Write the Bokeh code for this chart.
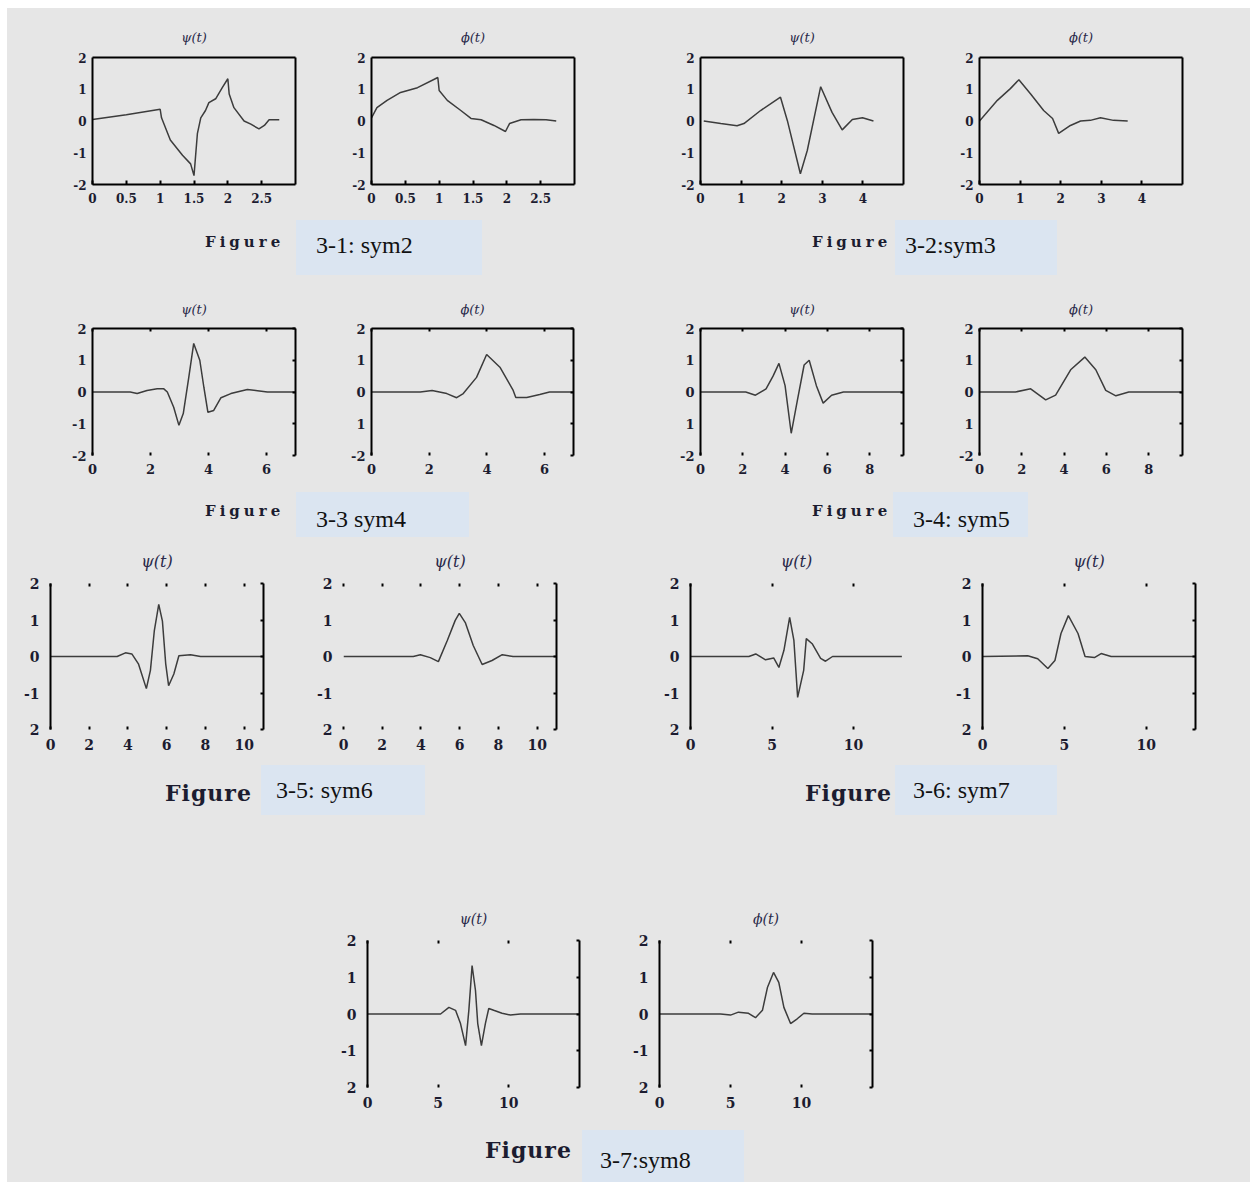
from bokeh.plotting import figure
from bokeh.models import Range1d, LinearAxis, FixedTicker, Spacer, Div
from bokeh.layouts import row, column
from bokeh.embed import file_html
from bokeh.resources import INLINE

BG = "#e6e6e6"
BOX = "#dbe5f1"
INK = "#1c1c30"
CURVE = "#3c3c3c"

# ---------------- data ----------------
t_psi_sym2 = [0, 0.5, 1.0, 1.02, 1.15, 1.33, 1.45, 1.5, 1.55, 1.6, 1.67, 1.72, 1.82, 1.92, 2.0, 2.02, 2.09, 2.24, 2.34, 2.46, 2.54, 2.61, 2.76]
v_psi_sym2 = [0.05, 0.2, 0.37, 0.1, -0.6, -1.08, -1.35, -1.72, -0.4, 0.1, 0.33, 0.58, 0.7, 1.06, 1.33, 0.85, 0.42, 0.0, -0.1, -0.25, -0.14, 0.04, 0.04]
t_phi_sym2 = [0.0, 0.08, 0.23, 0.43, 0.68, 0.98, 1.0, 1.12, 1.32, 1.47, 1.62, 1.81, 1.98, 2.04, 2.21, 2.4, 2.58, 2.73]
v_phi_sym2 = [0.1, 0.42, 0.65, 0.9, 1.05, 1.37, 0.96, 0.65, 0.33, 0.08, 0.04, -0.14, -0.33, -0.08, 0.04, 0.05, 0.04, 0.0]

t_psi_sym3 = [0.08, 0.5, 0.9, 1.07, 1.48, 1.97, 2.14, 2.46, 2.63, 2.96, 3.24, 3.49, 3.74, 3.99, 4.26]
v_psi_sym3 = [0.0, -0.08, -0.15, -0.08, 0.33, 0.75, 0.01, -1.66, -0.93, 1.08, 0.27, -0.28, 0.05, 0.1, 0.0]
t_phi_sym3 = [0.0, 0.44, 0.76, 0.97, 1.26, 1.58, 1.8, 1.95, 2.24, 2.49, 2.73, 2.98, 3.3, 3.65]
v_phi_sym3 = [0.0, 0.65, 1.02, 1.3, 0.85, 0.33, 0.08, -0.39, -0.14, 0.0, 0.02, 0.1, 0.02, 0.0]

t_psi_sym4 = [0, 1.3, 1.54, 1.88, 2.23, 2.46, 2.58, 2.8, 2.98, 3.13, 3.32, 3.49, 3.7, 3.84, 3.98, 4.18, 4.43, 4.77, 5.34, 5.69, 6.03, 7.0]
v_psi_sym4 = [0, 0, -0.05, 0.05, 0.1, 0.1, 0, -0.48, -1.05, -0.68, 0.46, 1.53, 1.0, 0.15, -0.64, -0.58, -0.18, -0.05, 0.08, 0.04, 0, 0]
t_phi_sym4 = [0, 1.1, 1.69, 2.1, 2.61, 2.95, 3.18, 3.64, 3.99, 4.45, 4.91, 5.0, 5.38, 5.83, 6.17, 7.0]
v_phi_sym4 = [0, 0, 0, 0.05, -0.05, -0.18, -0.05, 0.46, 1.18, 0.78, 0.05, -0.17, -0.17, -0.08, 0, 0]

t_psi_sym5 = [0, 2.14, 2.6, 3.1, 3.43, 3.71, 4.0, 4.29, 4.57, 4.9, 5.14, 5.48, 5.8, 6.2, 6.76, 9.6]
v_psi_sym5 = [0, 0, -0.1, 0.1, 0.5, 0.9, 0.2, -1.3, -0.3, 0.85, 1.0, 0.2, -0.35, -0.1, 0, 0]
t_phi_sym5 = [0, 1.7, 2.42, 3.13, 3.6, 4.31, 4.98, 5.5, 5.97, 6.45, 7.06, 9.6]
v_phi_sym5 = [0, 0, 0.1, -0.25, -0.1, 0.7, 1.1, 0.7, 0.05, -0.12, 0, 0]

t_psi_sym6 = [0, 3.44, 3.87, 4.2, 4.54, 4.95, 5.16, 5.36, 5.59, 5.78, 5.95, 6.1, 6.37, 6.63, 7.23, 7.75, 11.0]
v_psi_sym6 = [0, 0, 0.1, 0.07, -0.2, -0.88, -0.38, 0.7, 1.43, 0.97, -0.2, -0.8, -0.48, 0.02, 0.05, 0, 0]
t_phi_sym6 = [0, 3.6, 3.97, 4.48, 4.9, 5.36, 5.77, 5.98, 6.29, 6.7, 7.16, 7.67, 8.2, 8.76, 11.0]
v_phi_sym6 = [0, 0, 0.05, -0.03, -0.14, 0.44, 0.99, 1.18, 0.93, 0.3, -0.22, -0.11, 0.05, 0, 0]

t_psi_sym7 = [0, 3.58, 4.0, 4.6, 5.1, 5.42, 5.73, 6.08, 6.34, 6.57, 6.94, 7.1, 7.46, 7.98, 8.28, 8.71, 12.96]
v_psi_sym7 = [0, 0, 0.07, -0.09, -0.04, -0.3, 0.17, 1.07, 0.44, -1.12, -0.38, 0.49, 0.35, -0.05, -0.13, 0, 0]
t_phi_sym7 = [0, 2.76, 3.37, 3.99, 4.42, 4.79, 5.24, 5.83, 6.26, 6.83, 7.24, 7.85, 13.0]
v_phi_sym7 = [0, 0.02, -0.06, -0.33, -0.11, 0.63, 1.12, 0.63, 0, -0.03, 0.08, 0, 0]

t_psi_sym8 = [0, 4.6, 5.17, 5.76, 6.23, 6.58, 6.94, 7.17, 7.4, 7.64, 7.8, 8.06, 8.34, 8.58, 8.93, 9.52, 10.11, 10.82, 15.0]
v_psi_sym8 = [0, 0, 0, 0.18, 0.1, -0.26, -0.86, 0.1, 1.32, 0.64, -0.26, -0.86, -0.26, 0.15, 0.1, 0.02, -0.03, 0, 0]
t_phi_sym8 = [0, 4.3, 5.0, 5.56, 6.27, 6.76, 7.25, 7.6, 8.03, 8.4, 8.76, 9.23, 9.7, 10.17, 10.75, 15.0]
v_phi_sym8 = [0, 0, -0.03, 0.05, 0.02, -0.1, 0.1, 0.72, 1.13, 0.86, 0.18, -0.26, -0.13, 0.02, 0, 0]

# axis extents and tick labels
xmax_sym = {2: 3, 3: 5, 4: 7, 5: 9.6, 6: 11, 7: 13, 8: 15}
xticks_sym = {
    2: [0, 0.5, 1, 1.5, 2, 2.5],
    3: [0, 1, 2, 3, 4],
    4: [0, 2, 4, 6],
    5: [0, 2, 4, 6, 8],
    6: [0, 2, 4, 6, 8, 10],
    7: [0, 5, 10],
    8: [0, 5, 10],
}
xlabels_sym = {
    2: ["0", "0.5", "1", "1.5", "2", "2.5"],
    3: ["0", "1", "2", "3", "4"],
    4: ["0", "2", "4", "6"],
    5: ["0", "2", "4", "6", "8"],
    6: ["0", "2", "4", "6", "8", "10"],
    7: ["0", "5", "10"],
    8: ["0", "5", "10"],
}
yticks = [-2, -1, 0, 1, 2]
ylabels_std = ["-2", "-1", "0", "1", "2"]
ylabels_nominus = ["-2", "1", "0", "1", "2"]
ylabels_low2 = ["2", "-1", "0", "1", "2"]

titles = ["ψ(t)", "ϕ(t)"]
captions = ["3-1: sym2", "3-2:sym3", "3-3 sym4", "3-4: sym5", "3-5: sym6", "3-6: sym7", "3-7:sym8"]

# ---------------- layout constants ----------------
OFF_X, OFF_Y = 7, 8          # white strip at the top/left of the reference
TOTAL_W = 1250 - OFF_X
ML, MR, MB = 40, 20, 28
MT_ROW = [48, 50, 46, 50]


def panel(title, t, v, n, ylabels, style, fw, fh, fs_tick, fs_title, title_standoff, mt,
          left_line=True, right_line=True, lw=1.5):
    p = figure(width=ML + fw + MR, height=mt + fh + MB,
               x_range=Range1d(0, xmax_sym[n]), y_range=Range1d(-2, 2),
               x_axis_type=None, y_axis_type=None,
               output_backend="svg", toolbar_location=None, tools="",
               min_border_left=ML, min_border_right=MR,
               min_border_top=mt, min_border_bottom=MB,
               background_fill_color=BG, border_fill_color=BG,
               outline_line_color=None, margin=0, title=title)
    p.title.align = "center"
    p.title.text_font = "DejaVu Serif"
    p.title.text_font_style = "italic"
    p.title.text_font_size = f"{fs_title}px"
    p.title.text_color = "#2a2a4a"
    p.title.standoff = title_standoff

    xt = FixedTicker(ticks=xticks_sym[n], minor_ticks=[])
    xl = dict(zip(xticks_sym[n], xlabels_sym[n]))
    yt = FixedTicker(ticks=yticks, minor_ticks=[])
    yl = dict(zip(yticks, ylabels))

    def add_axis(loc, ticker, labels, line, tin, standoff):
        a = LinearAxis(ticker=ticker)
        a.axis_line_color = "black" if line else None
        a.axis_line_width = 2
        a.major_tick_in = tin
        a.major_tick_out = 0
        a.major_tick_line_color = "black" if tin > 0 else None
        a.major_tick_line_width = 2
        a.minor_tick_line_color = None
        if labels is not None:
            a.major_label_overrides = labels
            a.major_label_text_font = "DejaVu Serif"
            a.major_label_text_font_style = "bold"
            a.major_label_text_font_size = f"{fs_tick}px"
            a.major_label_text_color = INK
            a.major_label_standoff = standoff
        else:
            # frame side only: no tick labels drawn
            a.major_label_text_font_size = "2px"
            a.major_label_text_color = None
            a.major_label_standoff = 0
        p.add_layout(a, loc)

    if style == "box":
        add_axis("below", xt, xl, True, 4, 8)
        add_axis("left", yt, yl, True, 0, 6)
        add_axis("above", xt, None, True, 0, 0)
        add_axis("right", yt, None, True, 0, 0)
    elif style == "open":
        add_axis("below", xt, xl, False, 3, 8)
        add_axis("left", yt, yl, True, 0, 6)
        add_axis("above", xt, None, True, 3, 0)
        add_axis("right", yt, None, True, 3, 0)
    else:
        add_axis("below", xt, xl, False, 3, 9)
        add_axis("left", yt, yl, left_line, 0, 11)
        add_axis("above", xt, None, False, 3, 0)
        if right_line:
            add_axis("right", yt, None, True, 3, 0)

    p.line(t, v, line_color=CURVE, line_width=lw)
    return p


def panel_row(figs, xs):
    kids = []
    cur = 0
    for f, x in zip(figs, xs):
        left = x - OFF_X - ML
        if left - cur > 0:
            kids.append(Spacer(width=left - cur, height=1, margin=0))
        kids.append(f)
        cur = left + f.width
    if TOTAL_W - cur > 0:
        kids.append(Spacer(width=TOTAL_W - cur, height=1, margin=0))
    return row(kids, spacing=0, margin=0, styles={"background-color": BG})


def fig_word(size, ls, pad):
    return (f'<div style="font-family:\'DejaVu Serif\';font-weight:bold;font-size:{size}px;'
            f'letter-spacing:{ls}px;color:{INK};padding-top:{pad}px;white-space:nowrap;'
            f'line-height:1.15">Figure</div>')


def cap_box(text, w, h, pl, pt):
    return (f'<div style="width:{w}px;height:{h}px;box-sizing:border-box;background:{BOX};'
            f'font-family:\'Liberation Serif\';font-size:24px;color:#111;line-height:28px;'
            f'padding:{pt}px 0 0 {pl}px;white-space:nowrap;overflow:hidden">{text}</div>')


def band(items, h):
    # items: (page_x, width, html)
    kids = []
    cur = 0
    for x, w, html in items:
        left = x - OFF_X
        if left - cur > 0:
            kids.append(Spacer(width=left - cur, height=1, margin=0))
        kids.append(Div(text=html, width=w, height=h, margin=0))
        cur = left + w
    if TOTAL_W - cur > 0:
        kids.append(Spacer(width=TOTAL_W - cur, height=1, margin=0))
    return row(kids, spacing=0, margin=0, styles={"background-color": BG})


# ---------------- panels ----------------
m1, m2, m3, m4 = MT_ROW
r1 = [
    panel(titles[0], t_psi_sym2, v_psi_sym2, 2, ylabels_std, "box", 203, 127, 12, 13, 26, m1),
    panel(titles[1], t_phi_sym2, v_phi_sym2, 2, ylabels_std, "box", 203, 127, 12, 13, 26, m1),
    panel(titles[0], t_psi_sym3, v_psi_sym3, 3, ylabels_std, "box", 203, 127, 12, 13, 26, m1),
    panel(titles[1], t_phi_sym3, v_phi_sym3, 3, ylabels_std, "box", 203, 127, 12, 13, 26, m1),
]
r2 = [
    panel(titles[0], t_psi_sym4, v_psi_sym4, 4, ylabels_std, "open", 203, 127, 13, 13, 24, m2),
    panel(titles[1], t_phi_sym4, v_phi_sym4, 4, ylabels_nominus, "open", 202, 127, 13, 13, 24, m2),
    panel(titles[0], t_psi_sym5, v_psi_sym5, 5, ylabels_nominus, "open", 203, 127, 13, 13, 24, m2),
    panel(titles[1], t_phi_sym5, v_phi_sym5, 5, ylabels_nominus, "open", 203, 127, 13, 13, 24, m2),
]
r3 = [
    panel(titles[0], t_psi_sym6, v_psi_sym6, 6, ylabels_low2, "sides", 213, 146, 14, 16, 25, m3),
    panel(titles[0], t_phi_sym6, v_phi_sym6, 6, ylabels_low2, "sides", 213, 146, 14, 16, 25, m3,
          left_line=False),
    panel(titles[0], t_psi_sym7, v_psi_sym7, 7, ylabels_low2, "sides", 212, 146, 14, 16, 25, m3,
          right_line=False),
    panel(titles[0], t_phi_sym7, v_phi_sym7, 7, ylabels_low2, "sides", 213, 146, 14, 16, 25, m3),
]
r4 = [
    panel(titles[0], t_psi_sym8, v_psi_sym8, 8, ylabels_low2, "sides", 212, 147, 14, 14, 28, m4),
    panel(titles[1], t_phi_sym8, v_phi_sym8, 8, ylabels_low2, "sides", 213, 147, 14, 14, 28, m4),
]

row1 = panel_row(r1, [92, 371, 700, 979])
row2 = panel_row(r2, [92, 371, 700, 979])
row3 = panel_row(r3, [50, 343, 690, 982])
row4 = panel_row(r4, [367, 659])

band1 = band([(205, 91, fig_word(15, 4, 14)), (296, 186, cap_box(captions[0], 186, 55, 20, 11)),
              (812, 83, fig_word(15, 4, 14)), (895, 162, cap_box(captions[1], 162, 55, 10, 11))], 55)
band2 = band([(205, 91, fig_word(15, 4, 11)), (296, 173, cap_box(captions[2], 173, 45, 20, 13)),
              (812, 81, fig_word(15, 4, 11)), (893, 135, cap_box(captions[3], 135, 45, 20, 13))], 45)
band3 = band([(165, 96, fig_word(22, 1, 16)), (261, 164, cap_box(captions[4], 164, 50, 15, 11)),
              (805, 90, fig_word(22, 1, 16)), (895, 162, cap_box(captions[5], 162, 50, 18, 11))], 50)
band4 = band([(485, 97, fig_word(22, 1, 8)), (582, 162, cap_box(captions[6], 162, 52, 18, 16))], 52)

# vertical placement (page y of each element top, element height)
elements = [
    (57 - m1, row1, m1 + 127 + MB),
    (220, band1, 55),
    (328 - m2, row2, m2 + 127 + MB),
    (492, band2, 45),
    (583 - m3, row3, m3 + 146 + MB),
    (765, band3, 50),
    (940 - m4, row4, m4 + 147 + MB),
    (1130, band4, 52),
]
kids = []
cur = 0
for top, el, h in elements:
    gap = (top - OFF_Y) - cur
    if gap > 0:
        kids.append(Spacer(width=TOTAL_W, height=gap, margin=0))
    kids.append(el)
    cur = top - OFF_Y + h

inner = column(kids, spacing=0, margin=0, styles={"background-color": BG})
page = column([Spacer(width=1250, height=OFF_Y, margin=0),
               row([Spacer(width=OFF_X, height=1, margin=0), inner], spacing=0, margin=0)],
              spacing=0, margin=0, styles={"background-color": "white"})

open("out.html", "w").write(file_html(page, INLINE))
